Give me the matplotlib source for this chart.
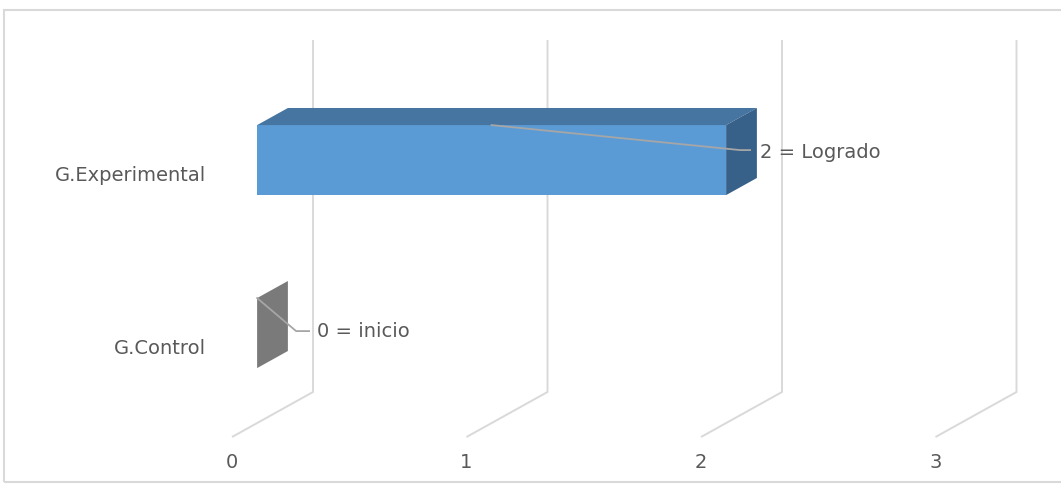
import numpy as np
import matplotlib.pyplot as plt
from matplotlib.patches import Polygon, Rectangle

# data
categories = ['G.Control', 'G.Experimental']
values = [0, 2]
labels = ['0 = inicio', '2 = Logrado']
ticks = [0, 1, 2, 3]

front_colors = ['#808080', '#5b9bd5']
top_colors = ['#999999', '#4575a0']
side_colors = ['#7a7a7a', '#386189']
grid_col = '#d9d9d9'
text_col = '#595959'

# layout (pixels)
W, H = 1061, 486
X0, SX = 232, 234.5      # floor front x of value 0, px per unit
Y0, SY = 437, 173        # floor front y, px per row
DX, DY = 81 / SX, 45 / SY  # full depth shift in data units
d0, d1 = 0.31, 0.69      # bar depth range
bar_h = 70 / SY
row_off = 0.52
wall_top = (Y0 - 40) / SY

# label placement offsets in px from bar front end (x right, y down)
label_off = [(60, -2), (34, -8)]
bend_off = [(39, -2), (14, -10)]
hend_off = [(52, -2), (24, -10)]

plt.rcParams['font.family'] = ['DejaVu Sans']
fs = 14

fig = plt.figure(figsize=(W / 100, H / 100), dpi=100)
ax = fig.add_axes([0, 0, 1, 1])
ax.set_xlim(-X0 / SX, (W - X0) / SX)
ax.set_ylim(-(H - Y0) / SY, Y0 / SY)
ax.axis('off')


def proj(x, y, d):
    return (x + d * DX, y + d * DY)


def px(dx, dy):
    return dx / SX, -dy / SY


# gridlines: floor diagonal + back wall vertical
for t in ticks:
    pts = np.array([proj(t, 0, 0), proj(t, 0, 1), (t + DX, wall_top)])
    ax.plot(pts[:, 0], pts[:, 1], color=grid_col, lw=1.4, zorder=1,
            solid_capstyle='butt')
    ax.text(t, -25 / SY, str(t), ha='center', va='center', fontsize=fs,
            color=text_col)

# bars
for i, v in enumerate(values):
    yc = i + row_off
    yb, yt = yc - bar_h / 2, yc + bar_h / 2
    front = [proj(0, yb, d0), proj(v, yb, d0), proj(v, yt, d0), proj(0, yt, d0)]
    top = [proj(0, yt, d0), proj(v, yt, d0), proj(v, yt, d1), proj(0, yt, d1)]
    side = [proj(v, yb, d0), proj(v, yt, d0), proj(v, yt, d1), proj(v, yb, d1)]
    for poly, c in [(front, front_colors[i]), (top, top_colors[i]),
                    (side, side_colors[i])]:
        ax.add_patch(Polygon(poly, closed=True, facecolor=c, edgecolor='none',
                             zorder=3))

    # category label
    ax.text((206 - X0) / SX, proj(0, yc, 0)[1] - 1 / SY, categories[i],
            ha='right', va='center', fontsize=fs, color=text_col)

    # data label with leader line
    ex, ey = proj(v, yc, d0)
    sx, sy = proj(v / 2, yt, d0)
    bx, by = ex + px(*bend_off[i])[0], ey + px(*bend_off[i])[1]
    hx, hy = ex + px(*hend_off[i])[0], ey + px(*hend_off[i])[1]
    ax.plot([sx, bx, hx], [sy, by, hy], color='#a6a6a6', lw=1.3, zorder=4)
    lx, ly = ex + px(*label_off[i])[0], ey + px(*label_off[i])[1]
    ax.text(lx, ly, labels[i], ha='left', va='center', fontsize=fs,
            color=text_col, zorder=5)

# chart border
fig.patches.append(Rectangle((4 / W, (H - 482) / H), 1.0, (482 - 10) / H,
                             transform=fig.transFigure, fill=False,
                             edgecolor=grid_col, lw=1.5))

fig.savefig('out.png', dpi=100)
